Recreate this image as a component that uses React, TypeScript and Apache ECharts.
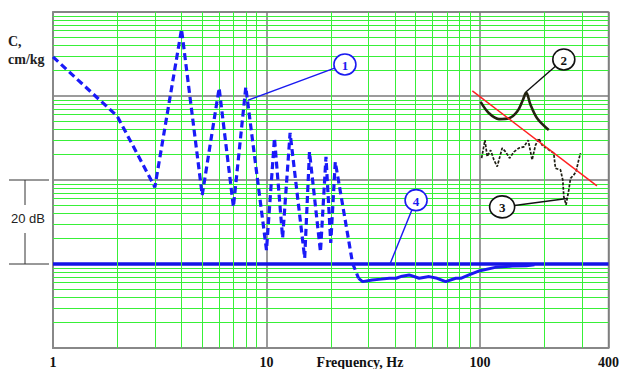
import React, { useEffect, useRef } from "react";
import * as echarts from "echarts";

// Curve 1 (dashed blue) : frequency (Hz) vs compliance level (dB)
const freq1 = [1, 2, 3, 4, 5, 6, 7, 8, 10, 10.9, 11.9, 12.9, 15.1, 15.9, 17.9, 19.0, 20.0, 21.0, 25.3, 27.0];
const level1 = [69.3, 55.2, 38.3, 75.9, 36.4, 61.9, 33.6, 62.1, 23.3, 50.0, 26.2, 51.2, 21.4, 46.7, 22.9, 45.5, 25.0, 44.3, 20.2, 16.6];

// Continuation of curve 1 (solid blue)
const freq1b = [27.0, 28.2, 31.3, 34.4, 37.6, 40.4, 43.2, 46.6, 51.9, 57.8, 63.0, 69.1, 77.0, 81.3, 88.8, 100, 118, 141.6, 165, 180];
const level1b = [16.6, 15.8, 16.2, 16.4, 16.6, 16.6, 17.1, 17.4, 16.6, 17.0, 16.6, 15.8, 16.6, 16.6, 17.4, 18.4, 19.2, 19.5, 19.6, 19.8];

// Curve 2 (black solid)
const freq2 = [100.7, 110.2, 122.7, 136.7, 149.4, 158.7, 164.6, 172.5, 185.2, 210];
const level2 = [58.6, 55.9, 54.5, 54.7, 56.3, 59.0, 60.8, 57.9, 54.7, 51.9];

// Curve 3 (black dotted)
const freq3 = [101.8, 105.5, 108.1, 112.2, 116.2, 120.4, 127.1, 131.9, 137.6, 144.2, 152.1, 160.6, 168.2, 175.5, 182.0, 188.7, 195.5, 221.6, 225.7, 238.4, 244.3, 247.0, 253.1, 260.6, 265.5, 274.9, 281.8, 290.1, 295.6];
const level3 = [45.2, 49.5, 45.6, 47.1, 44.8, 43.2, 47.6, 46.7, 45.2, 46.7, 47.6, 47.9, 49.5, 44.8, 48.3, 49.9, 48.3, 46.4, 42.8, 42.4, 40.0, 36.0, 34.1, 37.6, 40.4, 41.2, 42.0, 44.8, 46.4];

// Curve 4 (reference level, solid blue)
const freq4 = [1, 400];
const level4 = [20, 20];

// Red trend line
const freqRed = [92.1, 353];
const levelRed = [61.2, 38.6];

// Axis ranges and tick labels
const xMin = 1;
const xMax = 400;
const yMin = 0;
const yMax = 80;
const yStep = 20; // one decade = 20 dB

// Callout annotations
const calloutText = ["1", "2", "3", "4"];
const calloutAt = [[23.3, 67.5], [247, 68.7], [127, 33.6], [50.2, 35.2]];
const calloutTip = [[8.2, 59], [164.6, 61], [256, 35.6], [37.9, 20]];
const calloutColor = ["#1a1af0", "#111111", "#111111", "#1a1af0"];

const zip = (a: number[], b: number[]) => a.map((v, i) => [v, b[i]]);

export default function App() {
  const ref = useRef<HTMLDivElement>(null);

  useEffect(() => {
    if (!ref.current) return;
    const chart = echarts.init(ref.current, undefined, { renderer: "svg" });

    // minor log grid positions
    const vMinor: number[] = [];
    for (let d = 1; d <= 100; d *= 10) {
      for (let k = 2; k <= 9; k++) {
        const v = k * d;
        if (v < xMax) vMinor.push(v);
      }
    }
    const hMinor: number[] = [];
    for (let d = yMin; d < yMax; d += yStep) {
      for (let k = 2; k <= 9; k++) hMinor.push(d + yStep * Math.log10(k));
    }

    const serif = '"Liberation Serif", "Times New Roman", serif';

    chart.setOption({
      animation: false,
      backgroundColor: "#ffffff",
      grid: {
        left: 53,
        right: 12,
        top: 12,
        bottom: 21,
        show: true,
        borderColor: "#8a8a8a",
        borderWidth: 1.5,
        backgroundColor: "transparent",
      },
      xAxis: {
        type: "log",
        logBase: 10,
        min: xMin,
        max: xMax,
        axisLine: { show: true, lineStyle: { color: "#888888", width: 2 } },
        axisTick: { show: false },
        axisLabel: {
          margin: 7,
          fontFamily: serif,
          fontWeight: "bold",
          fontSize: 14,
          color: "#111111",
        },
        splitLine: { show: true, lineStyle: { color: "#7a7a7a", width: 1.5 } },
      },
      yAxis: {
        type: "value",
        min: yMin,
        max: yMax,
        interval: yStep,
        axisLine: { show: true, lineStyle: { color: "#888888", width: 2 } },
        axisTick: { show: false },
        axisLabel: { show: false },
        splitLine: { show: true, lineStyle: { color: "#7a7a7a", width: 1.5 } },
      },
      series: [
        {
          type: "line",
          data: [],
          silent: true,
          z: 1,
          markLine: {
            silent: true,
            symbol: ["none", "none"],
            label: { show: false },
            lineStyle: { color: "#38f038", width: 1, type: "solid" },
            emphasis: { disabled: true },
            data: [
              ...vMinor.map((v) => ({ xAxis: v })),
              ...hMinor.map((v) => ({ yAxis: v })),
            ],
          },
        },
        {
          type: "line",
          data: zip(freq4, level4),
          showSymbol: false,
          z: 4,
          lineStyle: { color: "#1414e6", width: 3.5 },
        },
        {
          type: "line",
          data: zip(freq1, level1),
          showSymbol: false,
          z: 5,
          lineStyle: { color: "#1a1af8", width: 3.2, type: [7, 4] },
        },
        {
          type: "line",
          data: zip(freq1b, level1b),
          showSymbol: false,
          z: 5,
          lineStyle: { color: "#1a1af0", width: 3 },
        },
        {
          type: "line",
          data: zip(freq2, level2),
          showSymbol: false,
          smooth: 0.35,
          z: 5,
          lineStyle: { color: "#23230f", width: 2.6 },
        },
        {
          type: "line",
          data: zip(freq3, level3),
          showSymbol: false,
          z: 5,
          lineStyle: { color: "#1e1e12", width: 1.7, type: [3, 1.5] },
        },
        {
          type: "line",
          data: zip(freqRed, levelRed),
          showSymbol: false,
          z: 6,
          lineStyle: { color: "#ff2020", width: 1.5 },
        },
      ],
    });

    const px = (p: number[]) => chart.convertToPixel({ gridIndex: 0 }, p) as number[];
    const elements: any[] = [];

    // Callouts
    calloutText.forEach((t, i) => {
      const c = px(calloutAt[i]);
      const tip = px(calloutTip[i]);
      const rx = i === 2 ? 12.5 : 11;
      const ry = i === 2 ? 11 : 10.5;
      const dx = tip[0] - c[0];
      const dy = tip[1] - c[1];
      const ang = Math.atan2(dy, dx);
      const sx = c[0] + rx * Math.cos(ang);
      const sy = c[1] + ry * Math.sin(ang);
      elements.push({
        type: "line",
        z: 20,
        shape: { x1: sx, y1: sy, x2: tip[0], y2: tip[1] },
        style: { stroke: calloutColor[i], lineWidth: 1.4 },
      });
      elements.push({
        type: "ellipse",
        z: 21,
        shape: { cx: c[0], cy: c[1], rx, ry },
        style: { fill: "#ffffff", stroke: calloutColor[i], lineWidth: 1.6 },
      });
      elements.push({
        type: "text",
        z: 22,
        x: c[0],
        y: c[1] + 1,
        style: {
          text: t,
          font: `bold 13px ${serif}`,
          fill: calloutColor[i],
          align: "center",
          verticalAlign: "middle",
        },
      });
    });

    // 20 dB bracket
    const y40 = px([1, 40])[1];
    const y20 = px([1, 20])[1];
    const mid = (y40 + y20) / 2;
    const bracket = "#333333";
    elements.push(
      { type: "line", z: 20, shape: { x1: 9, y1: y40, x2: 49, y2: y40 }, style: { stroke: bracket, lineWidth: 1 } },
      { type: "line", z: 20, shape: { x1: 9, y1: y20, x2: 49, y2: y20 }, style: { stroke: bracket, lineWidth: 1 } },
      { type: "line", z: 20, shape: { x1: 25, y1: y40, x2: 25, y2: mid - 17 }, style: { stroke: bracket, lineWidth: 1 } },
      { type: "line", z: 20, shape: { x1: 25, y1: mid + 11, x2: 25, y2: y20 }, style: { stroke: bracket, lineWidth: 1 } },
      {
        type: "text",
        z: 21,
        x: 28,
        y: mid - 4,
        style: {
          text: "20 dB",
          font: '13px "Liberation Sans", Arial, sans-serif',
          fill: "#222222",
          align: "center",
          verticalAlign: "middle",
        },
      }
    );

    // Axis titles
    elements.push(
      {
        type: "text",
        z: 21,
        x: 8,
        y: 41,
        style: { text: "C,", font: `bold 14px ${serif}`, fill: "#222222", align: "left", verticalAlign: "middle" },
      },
      {
        type: "text",
        z: 21,
        x: 8,
        y: 59,
        style: { text: "cm/kg", font: `bold 14px ${serif}`, fill: "#222222", align: "left", verticalAlign: "middle" },
      },
      {
        type: "text",
        z: 21,
        x: 360,
        y: 362,
        style: { text: "Frequency, Hz", font: `bold 14px ${serif}`, fill: "#111111", align: "center", verticalAlign: "middle" },
      }
    );

    chart.setOption({ graphic: { elements } });

    return () => chart.dispose();
  }, []);

  return (
    <div
      ref={ref}
      style={{ position: "absolute", left: 0, top: 0, width: 622, height: 369, background: "#ffffff" }}
    />
  );
}
